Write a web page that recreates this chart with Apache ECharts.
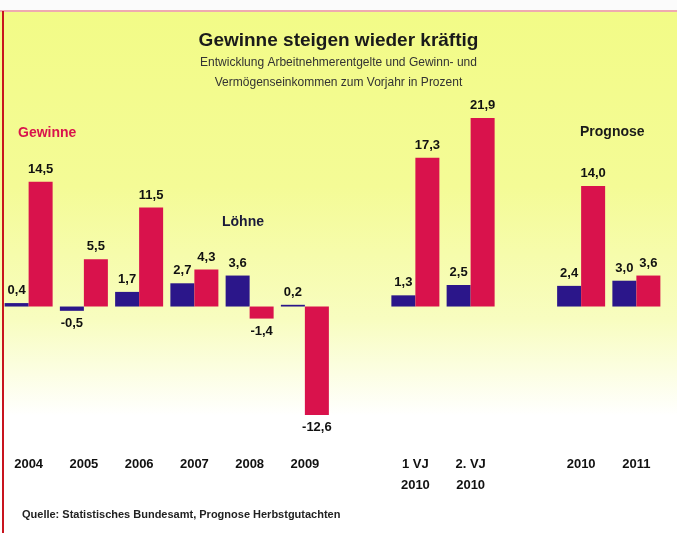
<!DOCTYPE html>
<html>
<head>
<meta charset="utf-8">
<script src="https://cdn.jsdelivr.net/npm/echarts@6/dist/echarts.min.js"></script>
<style>
  html, body { margin: 0; padding: 0; background: #fff; }
  #chart { width: 677px; height: 533px; }
</style>
</head>
<body>
<div id="chart"></div>
<script>
// slots with '' are empty gaps between the groups
const categories = ["2004", "2005", "2006", "2007", "2008", "2009", "", "1 VJ\n2010", "2. VJ\n2010", "", "2010", "2011"];
const loehne = [0.4, -0.5, 1.7, 2.7, 3.6, 0.2, null, 1.3, 2.5, null, 2.4, 3.0];
const gewinne = [14.5, 5.5, 11.5, 4.3, -1.4, -12.6, null, 17.3, 21.9, null, 14.0, 3.6];

const chartDom = document.getElementById("chart");
const myChart = echarts.init(chartDom);

const fmt = (v) => v.toFixed(1).replace(".", ",");

const labelOf = (v) => ({
	show: true,
	position: v < 0 ? "bottom" : "top",
	distance: 6,
	color: "#111",
	fontFamily: "Liberation Sans",
	fontWeight: "bold",
	fontSize: 13,
	formatter: (p) => fmt(p.value),
});

const mkData = (arr) =>
	arr.map((v) => (v === null ? null : { value: v, label: labelOf(v) }));

const option = {
	animation: false,
	backgroundColor: {
		type: "linear",
		x: 0, y: 0, x2: 0, y2: 1,
		colorStops: [
			{ offset: 0, color: "#f2fb86" },
			{ offset: 0.35, color: "#f4fb96" },
			{ offset: 0.6, color: "#f8fdc0" },
			{ offset: 0.78, color: "#ffffff" },
			{ offset: 1, color: "#ffffff" },
		],
	},
	title: {
		text: "Gewinne steigen wieder kräftig",
		subtext: "Entwicklung Arbeitnehmerentgelte und Gewinn- und\nVermögenseinkommen zum Vorjahr in Prozent",
		left: "center",
		top: 26,
		itemGap: 3,
		textStyle: {
			fontFamily: "Liberation Sans",
			fontSize: 19,
			fontWeight: "bold",
			color: "#1a1a1a",
		},
		subtextStyle: {
			fontFamily: "Liberation Sans",
			fontSize: 12,
			lineHeight: 20,
			color: "#333",
		},
	},
	grid: {
		left: 1,
		top: 100,
		width: 663,
		height: 327,
	},
	xAxis: {
		type: "category",
		data: categories,
		axisLine: { show: false },
		axisTick: { show: false },
		axisLabel: {
			interval: 0,
			margin: 27,
			fontFamily: "Liberation Sans",
			fontWeight: "bold",
			fontSize: 13,
			lineHeight: 21,
			color: "#111",
			verticalAlign: "top",
		},
	},
	yAxis: {
		type: "value",
		min: -14,
		max: 24,
		show: false,
		splitLine: { show: false },
	},
	series: [
		{
			name: "Löhne",
			type: "bar",
			data: mkData(loehne),
			barWidth: 24,
			barGap: "0%",
			itemStyle: { color: "#2b168a" },
		},
		{
			name: "Gewinne",
			type: "bar",
			data: mkData(gewinne),
			barWidth: 24,
			itemStyle: { color: "#d9124c" },
		},
	],
	graphic: [
		// white strip above the frame
		{ type: "rect", shape: { x: 0, y: 0, width: 677, height: 10 }, style: { fill: "#fbfbfb" }, z: 10 },
		{ type: "rect", shape: { x: 0, y: 10, width: 677, height: 2 }, style: { fill: "#efaab0" }, z: 10 },
		{ type: "rect", shape: { x: 2, y: 11, width: 2, height: 522 }, style: { fill: "#c8141e" }, z: 10 },
		{
			type: "text", left: 18, top: 126,
			style: { text: "Gewinne", fill: "#d9124c", font: "bold 14px 'Liberation Sans'" },
		},
		{
			type: "text", left: 222, top: 215,
			style: { text: "Löhne", fill: "#1a1a3a", font: "bold 14px 'Liberation Sans'" },
		},
		{
			type: "text", left: 580, top: 125,
			style: { text: "Prognose", fill: "#1a1a1a", font: "bold 14px 'Liberation Sans'" },
		},
		{
			type: "text", left: 22, top: 509,
			style: { text: "Quelle: Statistisches Bundesamt, Prognose Herbstgutachten", fill: "#222", font: "bold 11px 'Liberation Sans'" },
		},
	],
};

myChart.setOption(option);
</script>
</body>
</html>
